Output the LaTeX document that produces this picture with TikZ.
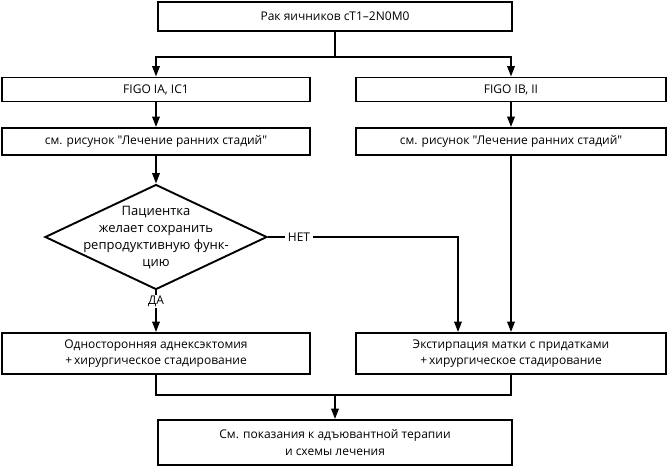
\documentclass[tikz,border=0pt]{standalone}
\usepackage{fontspec}
\setmainfont{Open Sans}[Ligatures=TeXOff]
\usetikzlibrary{shapes.geometric,arrows.meta,calc}
\begin{document}
\begin{tikzpicture}[x=1pt,y=1pt,
  every node/.style={font=\fontsize{12}{16.5}\selectfont},
  box/.style={draw, line width=1.9pt, rectangle, inner sep=0pt, align=center},
  dec/.style={draw, line width=1.9pt, diamond, inner sep=0pt},
  conn/.style={line width=1.9pt},
  arr/.style={conn, -{Triangle[length=10.5pt,width=7.5pt]}},
  lab/.style={inner sep=3pt}
]
\useasboundingbox (0,0) rectangle (668,-467);
\node[box, minimum width=354pt, minimum height=29pt] (top) at (335,-16.5) {Рак яичников сТ1–2N0M0};
\node[box, minimum width=308pt, minimum height=24pt] (figoL) at (156,-89.5) {FIGO IA, IC1};
\node[box, minimum width=310pt, minimum height=24pt] (figoR) at (511,-89.5) {FIGO IB, II};
\node[box, minimum width=308pt, minimum height=27pt] (smL) at (156,-141.5) {см. рисунок "Лечение ранних стадий"};
\node[box, minimum width=310pt, minimum height=27pt] (smR) at (511,-141.5) {см. рисунок "Лечение ранних стадий"};
\node[dec, minimum width=222pt, minimum height=105pt] (d) at (156,-237) {};
\node[align=center, inner sep=0pt, font=\fontsize{13}{17}\selectfont] (dt) at (156,-238) {Пациентка\\желает сохранить\\репродуктивную функ-\\цию};
\node[lab] (net) at (299,-237) {НЕТ};
\node[lab, inner sep=1pt] (da) at (156,-301.5) {ДА};
\node[box, minimum width=308pt, minimum height=41pt] (adnL) at (156,-353.5) {Односторонняя аднексэктомия\\+\,хирургическое стадирование};
\node[box, minimum width=310pt, minimum height=41pt] (extR) at (511,-353.5) {Экстирпация матки с придатками\\+\,хирургическое стадирование};
\node[box, minimum width=354pt, minimum height=45pt] (fin) at (335,-442.5) {См. показания к адъювантной терапии\\и схемы лечения};
\coordinate (fork) at (335,-57);
\coordinate (merge) at (335,-395);
\draw[conn] (top.south) -- (fork);
\draw[arr] (fork) -| (figoL.north);
\draw[arr] (fork) -| (figoR.north);
\draw[arr] (figoL.south) -- (smL.north);
\draw[arr] (figoR.south) -- (smR.north);
\draw[arr] (smL.south) -- (d.north);
\draw[conn] (d.east) -- (net.west);
\draw[arr] (net.east) -| ([xshift=-53pt]extR.north);
\draw[arr] (smR.south) -- (extR.north);
\draw[conn] (d.south) -- (da.north);
\draw[arr] (da.south) -- (adnL.north);
\draw[conn] (adnL.south) |- (merge) -| (extR.south);
\draw[arr] (merge) -- (fin.north);
\end{tikzpicture}
\end{document}
